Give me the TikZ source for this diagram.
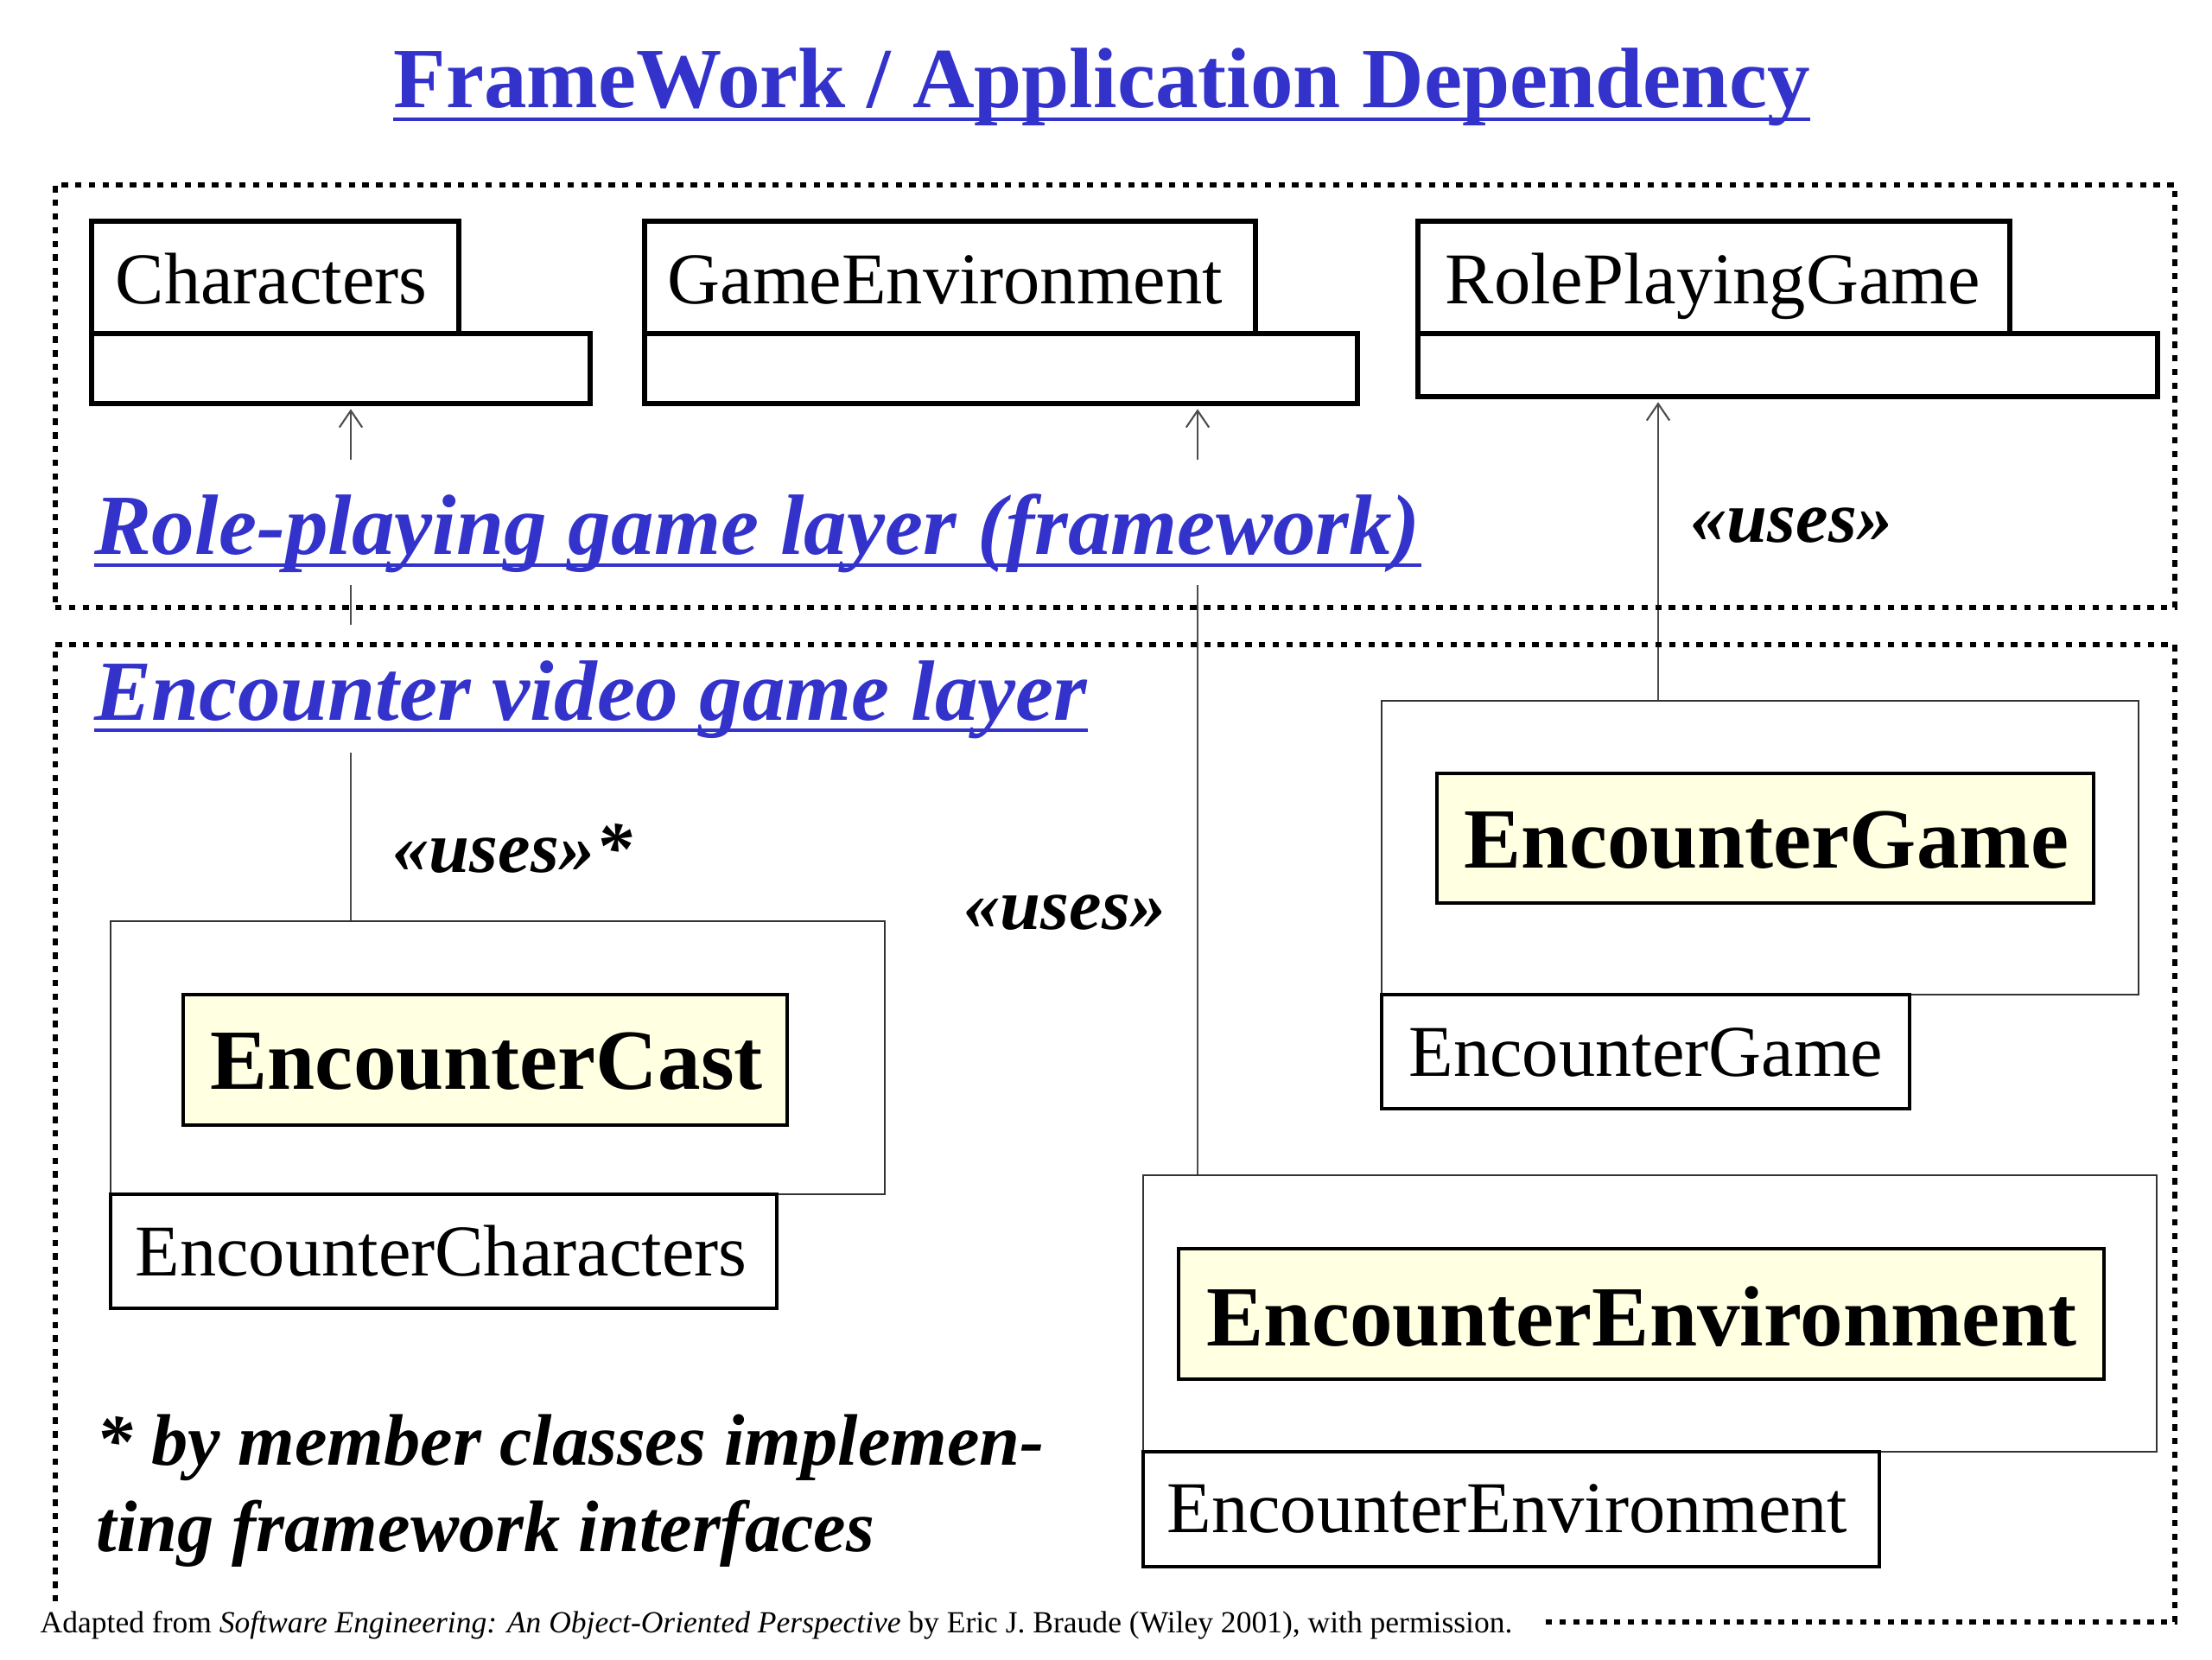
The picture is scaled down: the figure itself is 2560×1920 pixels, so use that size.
\documentclass[tikz,border=0pt]{standalone}
\usepackage{fontspec}
\setmainfont{Liberation Serif}
\usetikzlibrary{fit,arrows.meta,calc}
\definecolor{titleblue}{RGB}{51,51,204}
\definecolor{hiyellow}{RGB}{255,255,225}
\pgfdeclarelayer{bg}
\pgfsetlayers{bg,main}
\tikzset{
  layerframe/.style={draw, line width=1.9pt, dash pattern=on 2.1pt off 2.4pt},
  thickbox/.style={draw, line width=1.6pt, inner sep=0pt},
  pkgbody/.style={draw=black!80, line width=0.6pt, inner sep=0pt},
  pkgtab/.style={draw, line width=1.1pt, inner sep=0pt},
  hibox/.style={draw, fill=hiyellow, line width=0.9pt, inner sep=0pt},
  clsname/.style={anchor=base west, inner sep=0pt, font=\fontsize{24pt}{28pt}\selectfont},
  hiname/.style={anchor=base west, inner sep=0pt, font=\fontsize{28.2pt}{33pt}\selectfont\bfseries},
  useslabel/.style={anchor=base west, inner sep=0pt, font=\fontsize{24pt}{28pt}\selectfont\bfseries\itshape},
  layerlabel/.style={anchor=base west, inner sep=0pt, fill=white, text=titleblue,
    font=\fontsize{28.2pt}{33pt}\selectfont\bfseries\itshape},
  uline/.style={draw=titleblue, line width=1.4pt},
  conn/.style={draw=black!70, line width=0.6pt, -{Straight Barb[length=5.5pt,width=7.5pt]}, shorten >=1pt},
}
\begin{document}
\begin{tikzpicture}[x=0.01cm, y=-0.01cm]
\useasboundingbox (0,0) rectangle (2560,1920);

% title
\node[anchor=base west, inner sep=0pt, text=titleblue, font=\fontsize{28.2pt}{33pt}\selectfont\bfseries] (title) at (455,124) {FrameWork / Application Dependency};
\draw[uline] ($(title.base west)+(0,14)$) -- ($(title.base east)+(0,14)$);

% layer labels (white backgrounds hide the connectors)
\node[layerlabel, text height=1.09cm, text depth=0.36cm] (rplabel) at (109,641) {Role-playing game layer (framework)};
\draw[uline] ($(rplabel.base west)+(0,13)$) -- ($(rplabel.base east)+(0,13)$);
\node[layerlabel, text height=1.10cm, text depth=0.38cm] (enclabel) at (109,833) {Encounter video game layer};
\draw[uline] ($(enclabel.base west)+(0,12)$) -- ($(enclabel.base east)+(0,12)$);

% layer frames
\node[layerframe, inner sep=0pt, fit={(64,214) (2517,703)}] (topframe) {};
\node[layerframe, inner sep=0pt, fit={(64,746) (2517,1877)}] (lowframe) {};

% framework classes
\node[thickbox, fit={(106,256) (531,386)}] (charName) {};
\node[thickbox, fit={(106,386) (683,467)}] (charLower) {};
\node[clsname] (charText) at (133,351) {Characters};

\node[thickbox, fit={(746,256) (1453,386)}] (geName) {};
\node[thickbox, fit={(746,386) (1571,467)}] (geLower) {};
\node[clsname] (geText) at (772,351) {GameEnvironment};

\node[thickbox, fit={(1641,256) (2326,386)}] (rpgName) {};
\node[thickbox, fit={(1641,386) (2497,459)}] (rpgLower) {};
\node[clsname] (rpgText) at (1672,351) {RolePlayingGame};

% application packages
\node[pkgbody, fit={(128,1066) (1024,1382)}] (castOuter) {};
\node[hibox, fit={(212,1151) (911,1302)}] (castInner) {};
\node[hiname] (castText) at (243,1260) {EncounterCast};
\node[pkgtab, fit={(128,1382) (899,1514)}] (castTab) {};
\node[clsname] (castTabText) at (156,1476) {EncounterCharacters};

\node[pkgbody, fit={(1599,811) (2475,1151)}] (gameOuter) {};
\node[hibox, fit={(1663,895) (2423,1045)}] (gameInner) {};
\node[hiname] (gameText) at (1694,1004) {EncounterGame};
\node[pkgtab, fit={(1599,1151) (2210,1283)}] (gameTab) {};
\node[clsname] (gameTabText) at (1630,1245) {EncounterGame};

\node[pkgbody, fit={(1323,1360) (2496,1680)}] (envOuter) {};
\node[hibox, fit={(1364,1445) (2435,1596)}] (envInner) {};
\node[hiname] (envText) at (1396,1557) {EncounterEnvironment};
\node[pkgtab, fit={(1323,1680) (2175,1813)}] (envTab) {};
\node[clsname] (envTabText) at (1350,1773) {EncounterEnvironment};

% connector labels
\node[useslabel] (uses1) at (454,1009) {«uses»*};
\node[useslabel] (uses2) at (1115,1075) {«uses»};
\node[useslabel] (uses3) at (1956,627) {«uses»};

% footnote
\node[useslabel] (foot1) at (111,1695) {* by member classes implemen-};
\node[useslabel] (foot2) at (111,1795) {ting framework interfaces};

% caption
\node[anchor=base west, fill=white, inner xsep=0.32cm, inner ysep=0pt, text height=0.34cm,
  font=\fontsize{10.1pt}{12pt}\selectfont] (caption) at (14,1889)
  {Adapted from \textit{Software Engineering: An Object-Oriented Perspective} by Eric J. Braude (Wiley 2001), with permission.};

% connectors
\coordinate (x1) at (406,0);
\coordinate (x2) at (1386,0);
\coordinate (x3) at (1919,0);
\begin{pgfonlayer}{bg}
\draw[conn] (castOuter.north -| x1) -- (charLower.south -| x1);
\draw[conn] (envOuter.north -| x2) -- (geLower.south -| x2);
\draw[conn] (gameOuter.north -| x3) -- (rpgLower.south -| x3);
\end{pgfonlayer}
\end{tikzpicture}
\end{document}
